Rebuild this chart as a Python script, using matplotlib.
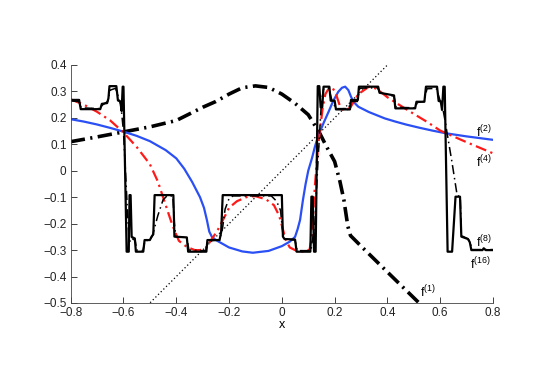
import matplotlib
matplotlib.use('Agg')
import matplotlib.pyplot as plt

plt.rcParams['font.family'] = ['Liberation Sans', 'DejaVu Sans']
plt.rcParams['mathtext.fontset'] = 'custom'
plt.rcParams['mathtext.rm'] = 'Liberation Sans'
plt.rcParams['mathtext.it'] = 'Liberation Sans'

# identity line y = x
ident_x = [-0.8, 0.8]
ident_y = [-0.8, 0.8]

# f^(1)
f1_x = [-0.80, -0.70, -0.60, -0.50, -0.40, -0.30, -0.25, -0.20, -0.15, -0.10,
        -0.05, 0.00, 0.05, 0.10, 0.143, 0.17, 0.20, 0.22, 0.235, 0.25, 0.26,
        0.28, 0.30, 0.40, 0.52]
f1_y = [0.110, 0.128, 0.147, 0.166, 0.190, 0.240, 0.262, 0.290, 0.314, 0.321,
        0.315, 0.290, 0.255, 0.212, 0.143, 0.090, 0.035, -0.040, -0.110, -0.210,
        -0.245, -0.265, -0.285, -0.383, -0.500]

# f^(2)
f2_x = [-0.80, -0.75, -0.70, -0.65, -0.60, -0.55, -0.50, -0.44, -0.40, -0.37,
        -0.34, -0.31, -0.295, -0.284, -0.275, -0.265, -0.25, -0.20, -0.15, -0.11,
        -0.05, 0.00, 0.03, 0.05, 0.06, 0.069, 0.08, 0.09, 0.10, 0.114, 0.125,
        0.139, 0.16, 0.177, 0.195, 0.214, 0.228, 0.24, 0.252, 0.262, 0.272,
        0.29, 0.31, 0.33, 0.36, 0.39, 0.43, 0.47, 0.52, 0.57, 0.62, 0.70, 0.80]
f2_y = [0.195, 0.186, 0.175, 0.162, 0.148, 0.132, 0.112, 0.078, 0.047, 0.008,
        -0.042, -0.100, -0.140, -0.186, -0.230, -0.250, -0.262, -0.290, -0.305, -0.310,
        -0.303, -0.285, -0.268, -0.250, -0.220, -0.186, -0.110, -0.050, 0.000, 0.047, 0.090,
        0.135, 0.185, 0.223, 0.265, 0.299, 0.314, 0.318, 0.305, 0.280, 0.260,
        0.242, 0.232, 0.222, 0.210, 0.198, 0.186, 0.175, 0.163, 0.152, 0.142, 0.130, 0.117]

# f^(4)
f4_x = [-0.80, -0.75, -0.70, -0.65, -0.60, -0.55, -0.50, -0.47, -0.445, -0.42,
        -0.405, -0.39, -0.36, -0.33, -0.31, -0.285, -0.27, -0.245, -0.22, -0.20,
        -0.17, -0.13, -0.10, -0.06, -0.03, -0.01, 0.005, 0.015, 0.03, 0.06, 0.09,
        0.105, 0.112, 0.118, 0.125, 0.133, 0.143, 0.155, 0.165, 0.18, 0.19, 0.205,
        0.22, 0.237, 0.26, 0.29, 0.33, 0.36, 0.40, 0.45, 0.50, 0.55, 0.60, 0.62,
        0.70, 0.80]
f4_y = [0.270, 0.250, 0.223, 0.190, 0.145, 0.090, 0.025, -0.040, -0.115, -0.190,
        -0.230, -0.265, -0.288, -0.300, -0.300, -0.290, -0.265, -0.228, -0.180, -0.140,
        -0.115, -0.098, -0.096, -0.108, -0.130, -0.170, -0.225, -0.262, -0.290, -0.305, -0.305,
        -0.298, -0.260, -0.180, -0.060, 0.040, 0.143, 0.240, 0.290, 0.315, 0.318, 0.290,
        0.245, 0.225, 0.240, 0.290, 0.318, 0.310, 0.278, 0.246, 0.215, 0.185, 0.152, 0.143,
        0.108, 0.066]

# f^(8)
f8_x = [-0.800, -0.770, -0.760, -0.690, -0.678, -0.660, -0.650, -0.630, -0.618,
        -0.610, -0.600, -0.590, -0.580, -0.574, -0.566, -0.556, -0.550, -0.526,
        -0.519, -0.500, -0.490, -0.470, -0.450, -0.435, -0.413, -0.407, -0.402,
        -0.360, -0.352, -0.288, -0.280, -0.236, -0.225, -0.215, -0.200, -0.185,
        -0.040, -0.020, -0.005, 0.003, 0.012, 0.050, 0.058, 0.110, 0.125, 0.135,
        0.143, 0.150, 0.158, 0.178, 0.190, 0.205, 0.252, 0.262, 0.286, 0.295,
        0.362, 0.372, 0.425, 0.433, 0.505, 0.513, 0.538, 0.550, 0.585, 0.598,
        0.610, 0.620, 0.626, 0.645, 0.664, 0.676, 0.680, 0.706, 0.714, 0.720, 0.800]
f8_y = [0.264, 0.262, 0.238, 0.235, 0.250, 0.262, 0.305, 0.312, 0.275,
        0.250, 0.148, -0.050, -0.250, -0.270, -0.258, -0.262, -0.300, -0.302,
        -0.265, -0.262, -0.245, -0.170, -0.110, -0.095, -0.095, -0.200, -0.250,
        -0.252, -0.300, -0.302, -0.265, -0.262, -0.220, -0.145, -0.105, -0.095,
        -0.095, -0.115, -0.150, -0.230, -0.258, -0.262, -0.302, -0.302, -0.200, 0.000,
        0.143, 0.260, 0.310, 0.312, 0.265, 0.235, 0.235, 0.262, 0.262, 0.312,
        0.314, 0.295, 0.282, 0.240, 0.238, 0.258, 0.262, 0.310, 0.312, 0.270,
        0.235, 0.180, 0.143, 0.030, -0.092, -0.100, -0.245, -0.258, -0.272, -0.298, -0.298]

# f^(16)
f16_x = [-0.800, -0.768, -0.762, -0.688, -0.682, -0.662, -0.657, -0.653, -0.627,
         -0.621, -0.612, -0.607, -0.603, -0.600, -0.588, -0.580, -0.577, -0.573,
         -0.569, -0.557, -0.553, -0.525, -0.520, -0.500, -0.494, -0.487, -0.482,
         -0.411, -0.407, -0.360, -0.355, -0.286, -0.282, -0.236, -0.230, -0.224,
         0.000, 0.004, 0.010, 0.050, 0.056, 0.108, 0.112, 0.117, 0.122, 0.128,
         0.136, 0.142, 0.147, 0.153, 0.158, 0.180, 0.185, 0.200, 0.205, 0.258,
         0.262, 0.288, 0.292, 0.365, 0.370, 0.425, 0.430, 0.505, 0.510, 0.540,
         0.546, 0.588, 0.594, 0.602, 0.607, 0.612, 0.617, 0.628, 0.645, 0.658,
         0.675, 0.680, 0.705, 0.712, 0.718, 0.760, 0.765, 0.772, 0.800]
f16_y = [0.268, 0.268, 0.233, 0.233, 0.253, 0.256, 0.274, 0.320, 0.320,
         0.266, 0.262, 0.226, 0.318, 0.318, -0.306, -0.306, -0.092, -0.092,
         -0.250, -0.256, -0.306, -0.306, -0.262, -0.262, -0.250, -0.240, -0.092,
         -0.092, -0.249, -0.252, -0.306, -0.306, -0.262, -0.262, -0.232, -0.092,
         -0.092, -0.249, -0.258, -0.260, -0.306, -0.306, -0.098, -0.098, -0.306, -0.306,
         0.320, 0.320, 0.240, 0.240, 0.318, 0.318, 0.265, 0.265, 0.232, 0.232,
         0.268, 0.268, 0.318, 0.318, 0.295, 0.285, 0.236, 0.236, 0.261, 0.261,
         0.318, 0.318, 0.264, 0.262, 0.230, 0.318, 0.318, -0.306, -0.306, -0.098,
         -0.098, -0.249, -0.258, -0.270, -0.300, -0.300, -0.293, -0.300, -0.300]

xticks = [-0.8, -0.6, -0.4, -0.2, 0, 0.2, 0.4, 0.6, 0.8]
xticklabels = ['\u22120.8', '\u22120.6', '\u22120.4', '\u22120.2', '0', '0.2', '0.4', '0.6', '0.8']
yticks = [-0.5, -0.4, -0.3, -0.2, -0.1, 0, 0.1, 0.2, 0.3, 0.4]
yticklabels = ['\u22120.5', '\u22120.4', '\u22120.3', '\u22120.2', '\u22120.1', '0',
               '0.1', '0.2', '0.3', '0.4']

fig = plt.figure(figsize=(5.45, 3.83), dpi=100)
ax = fig.add_axes([0.1297, 0.2089, 0.7749, 0.6214])

ax.plot(ident_x, ident_y, color='k', linestyle=(0, (1, 2)), lw=0.9)
ax.plot(f1_x, f1_y, color='k', lw=2.6, dashes=(4, 1.5, 0.6, 1.5))
ax.plot(f2_x, f2_y, color='#2a4ff5', lw=1.6)
ax.plot(f4_x, f4_y, color='#ff1a1a', lw=1.6, dashes=(5, 2, 1, 2))
ax.plot(f8_x, f8_y, color='k', lw=1.1, dashes=(6, 2.5, 1, 2.5))
ax.plot(f16_x, f16_y, color='k', lw=1.6)

lab = dict(fontsize=9, color='k')
ax.text(0.735, 0.128, r'f$^{(2)}$', **lab)
ax.text(0.735, 0.012, r'f$^{(4)}$', **lab)
ax.text(0.735, -0.290, r'f$^{(8)}$', **lab)
ax.text(0.712, -0.372, r'f$^{(16)}$', **lab)
ax.text(0.522, -0.478, r'f$^{(1)}$', **lab)

ax.set_xlim(-0.8, 0.8)
ax.set_ylim(-0.5, 0.4)
ax.set_xticks(xticks)
ax.set_xticklabels(xticklabels)
ax.set_yticks(yticks)
ax.set_yticklabels(yticklabels)
ax.tick_params(direction='in', length=4, width=0.6, labelsize=8.5, colors='#222222')
ax.tick_params(axis='x', pad=3)
ax.tick_params(axis='y', pad=3)
for s in ['top', 'right']:
    ax.spines[s].set_visible(False)
for s in ['left', 'bottom']:
    ax.spines[s].set_linewidth(0.6)
    ax.spines[s].set_color('#444444')
ax.set_xlabel('x', fontsize=9, labelpad=0)

fig.savefig('out.png', dpi=100)
